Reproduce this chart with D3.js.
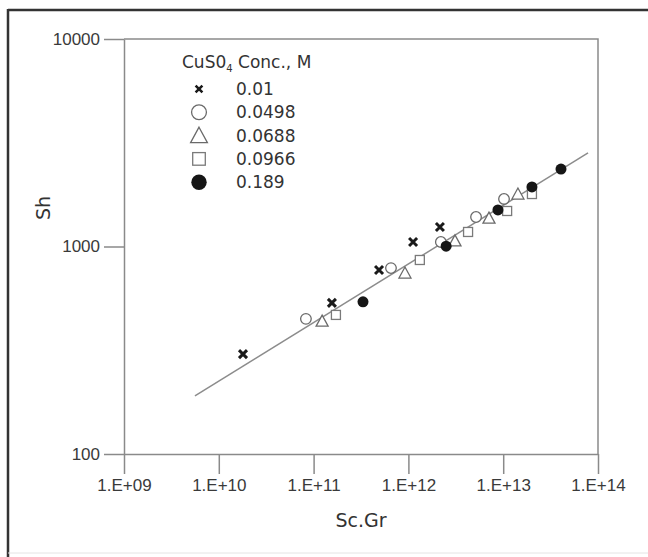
<!DOCTYPE html>
<html>
<head>
<meta charset="utf-8">
<script src="https://cdn.jsdelivr.net/npm/d3@7"></script>
<style>
  body { margin: 0; background: #fff; }
  svg { display: block; font-family: "DejaVu Sans", sans-serif; }
  .axis text { font-size: 17px; fill: #3a3a3a; }
  .axis path, .axis line { stroke: #8a8a8a; stroke-width: 1.5; }
</style>
</head>
<body>
<svg class="chart"></svg>
<script>
const concLabels = ['0.01', '0.0498', '0.0688', '0.0966', '0.189']
const shapes = ['cross', 'circle', 'triangle', 'square', 'dot']

// Sc.Gr values per series
const scgr001 = [1.8e10, 1.56e11, 4.9e11, 1.12e12, 2.15e12]
const scgr0498 = [8.3e10, 6.55e11, 2.2e12, 5.17e12, 1.02e13]
const scgr0688 = [1.23e11, 9.2e11, 3.1e12, 7.08e12, 1.43e13]
const scgr0966 = [1.72e11, 1.32e12, 4.26e12, 1.1e13, 2.01e13]
const scgr189 = [3.32e11, 2.5e12, 8.8e12, 2.01e13, 4.07e13]

// Sh values per series
const sh001 = [303, 535, 771, 1051, 1242]
const sh0498 = [448, 787, 1051, 1387, 1695]
const sh0688 = [437, 745, 1065, 1371, 1790]
const sh0966 = [468, 861, 1175, 1483, 1790]
const sh189 = [541, 1004, 1500, 1936, 2361]

// correlation line end points
const fitX = [5.6e9, 7.85e13]
const fitY = [190.5, 2825]

const xTicks = [1e9, 1e10, 1e11, 1e12, 1e13, 1e14]
const yTicks = [100, 1000, 10000]

const width = 648
const height = 557

const series = [
  [scgr001, sh001], [scgr0498, sh0498], [scgr0688, sh0688],
  [scgr0966, sh0966], [scgr189, sh189]
].map(([xs, ys], i) => ({
  label: concLabels[i],
  shape: shapes[i],
  points: xs.map((x, j) => ({ x, y: ys[j] }))
}))

const x = d3.scaleLog().domain([1e9, 1e14]).range([124, 598])
const y = d3.scaleLog().domain([100, 10000]).range([454, 39])

const chart = d3.select('.chart')
  .attr('width', width)
  .attr('height', height)

// outer frame
chart.append('line').attr('x1', 8).attr('x2', width).attr('y1', 10).attr('y2', 10)
  .attr('stroke', '#333').attr('stroke-width', 2.5)
chart.append('line').attr('x1', 8).attr('x2', 8).attr('y1', 9).attr('y2', height)
  .attr('stroke', '#333').attr('stroke-width', 2.5)
chart.append('line').attr('x1', 8).attr('x2', width).attr('y1', 553).attr('y2', 553)
  .attr('stroke', '#e4e4e4').attr('stroke-width', 1)

// plot box (top and right sides)
chart.append('path')
  .attr('d', `M${x(1e9)},${y(1e4)}H${x(1e14)}V${y(100)}`)
  .attr('fill', 'none')
  .attr('stroke', '#8a8a8a')
  .attr('stroke-width', 1.5)

const fmtX = d => '1.E+' + String(Math.round(Math.log10(d))).padStart(2, '0')

chart.append('g').attr('class', 'axis')
  .attr('transform', `translate(0,${y(100)})`)
  .call(d3.axisBottom(x).tickValues(xTicks).tickFormat(fmtX).tickSize(20).tickSizeOuter(0).tickPadding(5))

chart.append('g').attr('class', 'axis')
  .attr('transform', `translate(${x(1e9)},0)`)
  .call(d3.axisLeft(y).tickValues(yTicks).tickFormat(d3.format('d')).tickSize(20).tickSizeOuter(0).tickPadding(4))

// axis titles
chart.append('text')
  .attr('x', 361).attr('y', 527)
  .attr('text-anchor', 'middle')
  .attr('font-size', 19).attr('fill', '#333')
  .text('Sc.Gr')

chart.append('text')
  .attr('transform', 'translate(50,208) rotate(-90)')
  .attr('text-anchor', 'middle')
  .attr('font-size', 19).attr('fill', '#333')
  .text('Sh')

// fit line
chart.append('line')
  .attr('x1', x(fitX[0])).attr('y1', y(fitY[0]))
  .attr('x2', x(fitX[1])).attr('y2', y(fitY[1]))
  .attr('stroke', '#8c8c8c')
  .attr('stroke-width', 1.5)

const drawMarker = (g, shape, s) => {
  if (shape === 'cross') {
    const h = 4 * s
    g.append('path')
      .attr('d', `M${-h},${-h}L${h},${h}M${-h},${h}L${h},${-h}`)
      .attr('stroke', '#1a1a1a').attr('stroke-width', 3 * s)
  } else if (shape === 'circle') {
    g.append('circle').attr('r', 5.3 * s)
      .attr('fill', '#fff').attr('stroke', '#6a6a6a').attr('stroke-width', 1.3)
  } else if (shape === 'triangle') {
    const w = 6 * s
    g.append('path')
      .attr('d', `M0,${-6 * s}L${w},${5 * s}L${-w},${5 * s}Z`)
      .attr('fill', '#fff').attr('stroke', '#6a6a6a').attr('stroke-width', 1.3)
  } else if (shape === 'square') {
    const h = 4.5 * s
    g.append('rect').attr('x', -h).attr('y', -h).attr('width', 2 * h).attr('height', 2 * h)
      .attr('fill', '#fff').attr('stroke', '#7a7a7a').attr('stroke-width', 1.3)
  } else {
    g.append('circle').attr('r', 5.5 * s).attr('fill', '#161616')
  }
}

series.forEach((d) => {
  chart.append('g').selectAll('g')
    .data(d.points)
    .enter()
    .append('g')
    .attr('transform', p => `translate(${x(p.x)},${y(p.y)})`)
    .each((p, i, nodes) => drawMarker(d3.select(nodes[i]), d.shape, 1))
})

// legend
const legend = chart.append('g').attr('transform', 'translate(182,0)')
const title = legend.append('text')
  .attr('x', 0).attr('y', 68)
  .attr('font-size', 17).attr('fill', '#333')
title.append('tspan').text('CuS0')
title.append('tspan').attr('font-size', 10).attr('dy', 4).text('4')
title.append('tspan').attr('dy', -4).text(' Conc., M')

const rows = legend.selectAll('g.row')
  .data(series)
  .enter()
  .append('g')
  .attr('class', 'row')
  .attr('transform', (d, i) => `translate(0,${89 + i * 23.3})`)

rows.each((d, i, nodes) => {
  const g = d3.select(nodes[i]).append('g').attr('transform', 'translate(17,0)')
  drawMarker(g, d.shape, d.shape === 'cross' ? 0.85 : 1.4)
})

rows.append('text')
  .attr('x', 54).attr('y', 6)
  .attr('font-size', 17).attr('fill', '#333')
  .text(d => d.label)
</script>
</body>
</html>
